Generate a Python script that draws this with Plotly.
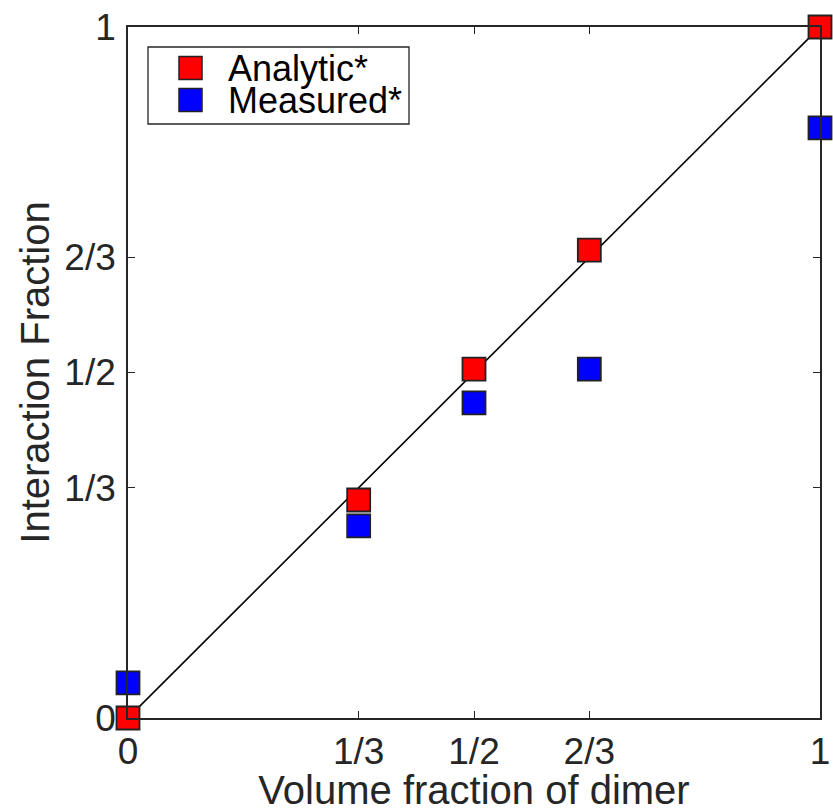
import plotly.graph_objects as go

x_vals = [0, 1/3, 1/2, 2/3, 1]
analytic = [0.0, 0.3155, 0.505, 0.677, 1.0]
measured = [0.0507, 0.278, 0.456, 0.505, 0.854]
tick_vals = [0, 1/3, 1/2, 2/3, 1]
tick_text = ["0", "1/3", "1/2", "2/3", "1"]
series_names = ["Analytic*", "Measured*"]
series_colors = ["#ff0000", "#0000ff"]

FONT = "Liberation Sans, Arial, Helvetica, sans-serif"
AX = "#262626"

fig = go.Figure()
fig.add_trace(go.Scatter(x=[0, 1], y=[0, 1], mode="lines",
                         line=dict(color="black", width=1.6),
                         showlegend=False, hoverinfo="skip"))
fig.add_trace(go.Scatter(x=x_vals, y=analytic, mode="markers", name=series_names[0],
                         marker=dict(symbol="square", size=23, color=series_colors[0],
                                     line=dict(color="#222", width=1.8)),
                         cliponaxis=False, showlegend=False))
fig.add_trace(go.Scatter(x=x_vals, y=measured, mode="markers", name=series_names[1],
                         marker=dict(symbol="square", size=23, color=series_colors[1],
                                     line=dict(color="#222", width=1.8)),
                         cliponaxis=False, showlegend=False))

axis_common = dict(range=[0, 1], tickvals=tick_vals, ticktext=tick_text,
                   showline=True, linecolor=AX, linewidth=1.6, mirror="ticks",
                   ticks="inside", ticklen=7, tickwidth=1.3, tickcolor=AX,
                   showgrid=False, zeroline=False, automargin=False,
                   tickfont=dict(family=FONT, size=37, color=AX),
                   title_font=dict(family=FONT, size=40, color=AX))

fig.update_xaxes(**axis_common, title_text="Volume fraction of dimer",
                 title_standoff=2, ticklabelstandoff=0)
fig.update_yaxes(**axis_common, title_text="Interaction Fraction",
                 title_standoff=2, ticklabelstandoff=3)

# Manual legend (box, swatches, labels) in paper coordinates
W, H = 833, 812
ml, mr, mt, mb = 128, 13, 27, 94
pw, ph = W - ml - mr, H - mt - mb
def px(xp): return (xp - ml) / pw
def py(yp): return (H - mb - yp) / ph

shapes = [dict(type="rect", xref="paper", yref="paper",
               x0=px(148), x1=px(409), y0=py(124), y1=py(47),
               line=dict(color=AX, width=1.3), fillcolor="white", layer="above")]
annotations = []
for i, (name, col) in enumerate(zip(series_names, series_colors)):
    cy = 68 + i * 32
    shapes.append(dict(type="rect", xref="paper", yref="paper",
                       x0=px(179), x1=px(202), y0=py(cy + 11.5), y1=py(cy - 11.5),
                       fillcolor=col, line=dict(color="#222", width=1.5), layer="above"))
    annotations.append(dict(xref="paper", yref="paper", x=px(226), y=py(cy),
                            text=name, showarrow=False, xanchor="left", yanchor="middle",
                            font=dict(family=FONT, size=36, color="black")))

fig.update_layout(width=W, height=H, margin=dict(l=ml, r=mr, t=mt, b=mb),
                  plot_bgcolor="white", paper_bgcolor="white",
                  shapes=shapes, annotations=annotations, showlegend=False)

fig.write_html("out.html")
